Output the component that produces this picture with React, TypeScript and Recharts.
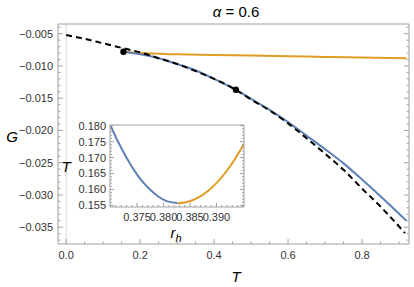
import React from "react";
import { ComposedChart, Line, Scatter, XAxis, YAxis, ReferenceLine } from "recharts";

// ── main panel: G(T) ─────────────────────────────────────────────
const largeBranch = [
  { T: 0.155, G: -0.0078 },
  { T: 0.2, G: -0.0082 },
  { T: 0.25, G: -0.0088 },
  { T: 0.3, G: -0.0097 },
  { T: 0.35, G: -0.0107 },
  { T: 0.4, G: -0.012 },
  { T: 0.459, G: -0.0137 },
  { T: 0.5, G: -0.0151 },
  { T: 0.55, G: -0.0168 },
  { T: 0.6, G: -0.0187 },
  { T: 0.65, G: -0.0208 },
  { T: 0.7, G: -0.0229 },
  { T: 0.75, G: -0.0251 },
  { T: 0.8, G: -0.0276 },
  { T: 0.85, G: -0.0302 },
  { T: 0.92, G: -0.034 },
];

const smallBranch = [
  { T: 0.155, G: -0.0078 },
  { T: 0.2, G: -0.008 },
  { T: 0.3, G: -0.0082 },
  { T: 0.4, G: -0.0083 },
  { T: 0.5, G: -0.0084 },
  { T: 0.6, G: -0.0085 },
  { T: 0.7, G: -0.0086 },
  { T: 0.8, G: -0.0087 },
  { T: 0.92, G: -0.0088 },
];

const approxCurve = [
  { T: 0, G: -0.0052 },
  { T: 0.05, G: -0.0058 },
  { T: 0.1, G: -0.0065 },
  { T: 0.15, G: -0.0072 },
  { T: 0.2, G: -0.0079 },
  { T: 0.25, G: -0.0088 },
  { T: 0.3, G: -0.0097 },
  { T: 0.35, G: -0.0108 },
  { T: 0.4, G: -0.012 },
  { T: 0.459, G: -0.0137 },
  { T: 0.5, G: -0.0152 },
  { T: 0.55, G: -0.0169 },
  { T: 0.6, G: -0.0189 },
  { T: 0.65, G: -0.0212 },
  { T: 0.7, G: -0.0236 },
  { T: 0.75, G: -0.0261 },
  { T: 0.8, G: -0.029 },
  { T: 0.85, G: -0.0318 },
  { T: 0.916, G: -0.0359 },
];

const markedPoints = [
  { T: 0.155, G: -0.0078 },
  { T: 0.459, G: -0.0137 },
];

const xMajor = [0, 0.2, 0.4, 0.6, 0.8];
const xTicks = [0, 0.05, 0.1, 0.15, 0.2, 0.25, 0.3, 0.35, 0.4, 0.45, 0.5, 0.55, 0.6, 0.65, 0.7, 0.75, 0.8, 0.85, 0.9];
const yMajor = [-0.005, -0.01, -0.015, -0.02, -0.025, -0.03, -0.035];
const yTicks = [
  -0.004, -0.005, -0.006, -0.007, -0.008, -0.009, -0.01, -0.011, -0.012, -0.013,
  -0.014, -0.015, -0.016, -0.017, -0.018, -0.019, -0.02, -0.021, -0.022, -0.023,
  -0.024, -0.025, -0.026, -0.027, -0.028, -0.029, -0.03, -0.031, -0.032, -0.033,
  -0.034, -0.035, -0.036, -0.037,
];

// ── inset: T(r_h) ────────────────────────────────────────────────
const insetLeft = [
  { r: 0.37, T: 0.18 },
  { r: 0.3715, T: 0.1747 },
  { r: 0.373, T: 0.17 },
  { r: 0.3745, T: 0.1659 },
  { r: 0.376, T: 0.1625 },
  { r: 0.3775, T: 0.1599 },
  { r: 0.379, T: 0.1578 },
  { r: 0.3805, T: 0.1564 },
  { r: 0.3827, T: 0.1557 },
];

const insetRight = [
  { r: 0.3827, T: 0.1557 },
  { r: 0.384, T: 0.1559 },
  { r: 0.3855, T: 0.1566 },
  { r: 0.387, T: 0.1579 },
  { r: 0.3885, T: 0.1597 },
  { r: 0.39, T: 0.162 },
  { r: 0.3915, T: 0.1649 },
  { r: 0.393, T: 0.1683 },
  { r: 0.3945, T: 0.1723 },
  { r: 0.3952, T: 0.1743 },
];

const rMajor = [0.375, 0.38, 0.385, 0.39];
const rTicks = [
  0.37, 0.371, 0.372, 0.373, 0.374, 0.375, 0.376, 0.377, 0.378, 0.379, 0.38, 0.381, 0.382,
  0.383, 0.384, 0.385, 0.386, 0.387, 0.388, 0.389, 0.39, 0.391, 0.392, 0.393, 0.394, 0.395,
];
const tMajor = [0.155, 0.16, 0.165, 0.17, 0.175, 0.18];
const tTicks = [
  0.155, 0.156, 0.157, 0.158, 0.159, 0.16, 0.161, 0.162, 0.163, 0.164, 0.165, 0.166, 0.167,
  0.168, 0.169, 0.17, 0.171, 0.172, 0.173, 0.174, 0.175, 0.176, 0.177, 0.178, 0.179, 0.18,
];

const BLUE = "#5e81b5";
const ORANGE = "#e19c24";
const FRAME = "#a0a0a0";
const TICK_TEXT = "#333";
const FONT = "'Liberation Sans', Arial, sans-serif";

type Side = "bottom" | "top" | "left" | "right";

// Mathematica-style frame ticks: pointing inward, labels only on major ones
function frameTick(
  side: Side,
  majors: number[],
  fmt: ((v: number) => string) | null,
  majorLen: number,
  minorLen: number,
  offset: number
) {
  return (props: any) => {
    const { x, y, payload } = props;
    const v = payload.value;
    const major = majors.some((m) => Math.abs(m - v) < 1e-9);
    const len = major ? majorLen : minorLen;
    let line;
    let label = null;
    if (side === "bottom") {
      line = <line x1={x} y1={y} x2={x} y2={y - len} stroke={FRAME} />;
      if (major && fmt)
        label = (
          <text x={x} y={y + offset} textAnchor="middle" fontSize={11} fill={TICK_TEXT} fontFamily={FONT}>
            {fmt(v)}
          </text>
        );
    } else if (side === "top") {
      line = <line x1={x} y1={y} x2={x} y2={y + len} stroke={FRAME} />;
    } else if (side === "left") {
      line = <line x1={x} y1={y} x2={x + len} y2={y} stroke={FRAME} />;
      if (major && fmt)
        label = (
          <text x={x - offset} y={y + 4} textAnchor="end" fontSize={11} fill={TICK_TEXT} fontFamily={FONT}>
            {fmt(v)}
          </text>
        );
    } else {
      line = <line x1={x} y1={y} x2={x - len} y2={y} stroke={FRAME} />;
    }
    return (
      <g>
        {line}
        {label}
      </g>
    );
  };
}

const fmtX = (v: number) => v.toFixed(1);
const fmtG = (v: number) => "\u2212" + Math.abs(v).toFixed(3);
const fmt3 = (v: number) => v.toFixed(3);

const Dot = (p: any) => <circle cx={p.cx} cy={p.cy} r={3.2} fill="#000" />;

const abs = (x: number, y: number, extra: React.CSSProperties = {}): React.CSSProperties => ({
  position: "absolute",
  left: x,
  top: y,
  transform: "translate(-50%, -50%)",
  lineHeight: 1,
  whiteSpace: "nowrap",
  fontFamily: FONT,
  color: "#000",
  ...extra,
});

export default function App() {
  const xDomain: [number, number] = [-0.022, 0.927];
  const yDomain: [number, number] = [-0.0376, -0.0035];
  const rDomain: [number, number] = [0.3699, 0.3952];
  const tDomain: [number, number] = [0.1545, 0.1802];

  return (
    <div style={{ position: "absolute", left: 0, top: 0, width: 414, height: 287, background: "#fff" }}>
      <ComposedChart width={414} height={287} margin={{ top: 23, right: 4, bottom: 42, left: 57 }}>
        <XAxis
          xAxisId="b"
          type="number"
          dataKey="T"
          domain={xDomain}
          allowDataOverflow
          ticks={xTicks}
          interval={0}
          height={1}
          tickSize={0}
          tickMargin={0}
          stroke={FRAME}
          tick={frameTick("bottom", xMajor, fmtX, 5, 2.5, 15)}
        />
        <XAxis
          xAxisId="t"
          orientation="top"
          type="number"
          domain={xDomain}
          allowDataOverflow
          ticks={xTicks}
          interval={0}
          height={1}
          tickSize={0}
          tickMargin={0}
          stroke={FRAME}
          tick={frameTick("top", xMajor, null, 5, 2.5, 0)}
        />
        <YAxis
          yAxisId="l"
          type="number"
          dataKey="G"
          domain={yDomain}
          allowDataOverflow
          ticks={yTicks}
          interval={0}
          width={1}
          tickSize={0}
          tickMargin={0}
          stroke={FRAME}
          tick={frameTick("left", yMajor, fmtG, 5, 2.5, 5)}
        />
        <YAxis
          yAxisId="r"
          orientation="right"
          type="number"
          domain={yDomain}
          allowDataOverflow
          ticks={yTicks}
          interval={0}
          width={1}
          tickSize={0}
          tickMargin={0}
          stroke={FRAME}
          tick={frameTick("right", yMajor, null, 5, 2.5, 0)}
        />
        <ReferenceLine xAxisId="b" yAxisId="l" x={0} stroke="#d8d8d8" strokeWidth={1} />
        <Line
          xAxisId="b"
          yAxisId="l"
          data={smallBranch}
          dataKey="G"
          type="monotone"
          stroke={ORANGE}
          strokeWidth={2}
          dot={false}
          isAnimationActive={false}
        />
        <Line
          xAxisId="b"
          yAxisId="l"
          data={largeBranch}
          dataKey="G"
          type="monotone"
          stroke={BLUE}
          strokeWidth={2}
          dot={false}
          isAnimationActive={false}
        />
        <Line
          xAxisId="b"
          yAxisId="l"
          data={approxCurve}
          dataKey="G"
          type="monotone"
          stroke="#000"
          strokeWidth={2}
          strokeDasharray="6 4"
          dot={false}
          isAnimationActive={false}
        />
        <Scatter
          xAxisId="b"
          yAxisId="l"
          data={markedPoints}
          dataKey="G"
          shape={Dot}
          isAnimationActive={false}
        />
      </ComposedChart>

      {/* inset */}
      <div style={{ position: "absolute", left: 60, top: 115, width: 190, height: 115 }}>
        <ComposedChart width={190} height={115} margin={{ top: 9, right: 5, bottom: 22, left: 49 }}>
          <XAxis
            xAxisId="b"
            type="number"
            dataKey="r"
            domain={rDomain}
            allowDataOverflow
            ticks={rTicks}
            interval={0}
            height={1}
            tickSize={0}
            tickMargin={0}
            stroke={FRAME}
            tick={frameTick("bottom", rMajor, fmt3, 4, 2, 14)}
          />
          <XAxis
            xAxisId="t"
            orientation="top"
            type="number"
            domain={rDomain}
            allowDataOverflow
            ticks={rTicks}
            interval={0}
            height={1}
            tickSize={0}
            tickMargin={0}
            stroke={FRAME}
            tick={frameTick("top", rMajor, null, 4, 2, 0)}
          />
          <YAxis
            yAxisId="l"
            type="number"
            dataKey="T"
            domain={tDomain}
            allowDataOverflow
            ticks={tTicks}
            interval={0}
            width={1}
            tickSize={0}
            tickMargin={0}
            stroke={FRAME}
            tick={frameTick("left", tMajor, fmt3, 4, 2, 4)}
          />
          <YAxis
            yAxisId="r"
            orientation="right"
            type="number"
            domain={tDomain}
            allowDataOverflow
            ticks={tTicks}
            interval={0}
            width={1}
            tickSize={0}
            tickMargin={0}
            stroke={FRAME}
            tick={frameTick("right", tMajor, null, 4, 2, 0)}
          />
          <Line
            xAxisId="b"
            yAxisId="l"
            data={insetLeft}
            dataKey="T"
            type="monotone"
            stroke={BLUE}
            strokeWidth={2}
            dot={false}
            isAnimationActive={false}
          />
          <Line
            xAxisId="b"
            yAxisId="l"
            data={insetRight}
            dataKey="T"
            type="monotone"
            stroke={ORANGE}
            strokeWidth={2}
            dot={false}
            isAnimationActive={false}
          />
        </ComposedChart>
      </div>

      {/* text */}
      <div style={abs(236, 11, { fontSize: 15 })}>
        <i>α</i> = 0.6
      </div>
      <div style={abs(12, 136, { fontSize: 15, fontStyle: "italic" })}>G</div>
      <div style={abs(236, 276, { fontSize: 15, fontStyle: "italic" })}>T</div>
      <div style={abs(66, 166, { fontSize: 15, fontStyle: "italic" })}>T</div>
      <div style={abs(176, 234, { fontSize: 15, fontStyle: "italic" })}>
        r<sub style={{ fontSize: 11 }}>h</sub>
      </div>
    </div>
  );
}
